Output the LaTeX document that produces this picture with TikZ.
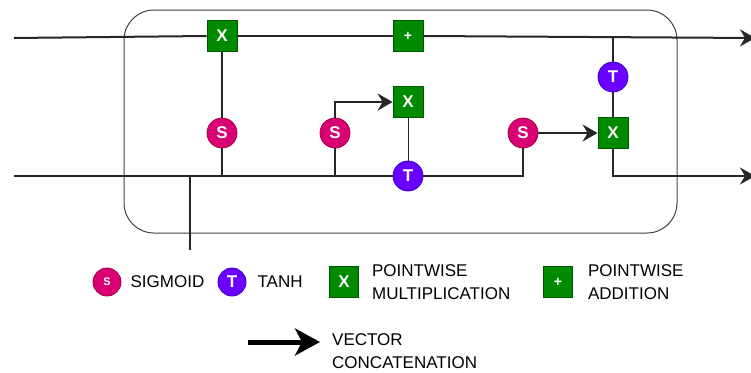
\documentclass[tikz,border=0pt]{standalone}
\usepackage{fontspec}
\setmainfont{Liberation Sans}
\usepackage{tikz}
\usetikzlibrary{arrows.meta,positioning,calc}
\definecolor{sigfill}{HTML}{D80073}
\definecolor{sigline}{HTML}{A50040}
\definecolor{tanfill}{HTML}{6A00FF}
\definecolor{tanline}{HTML}{3700CC}
\definecolor{opfill}{HTML}{008A00}
\definecolor{opline}{HTML}{005700}
\tikzset{
  wire/.style={line width=2pt,black!85},
  thinwire/.style={line width=1pt,black!85},
  flow/.style={wire,-{Stealth[length=15pt,width=17pt,inset=5pt]}},
  gate/.style={circle,minimum size=30pt,inner sep=0pt,text=white,
    line width=0.8pt,font=\fontsize{17}{17}\selectfont\bfseries},
  sigm/.style={gate,fill=sigfill,draw=sigline},
  tanhc/.style={gate,fill=tanfill,draw=tanline},
  opbox/.style={rectangle,minimum width=30pt,minimum height=31pt,inner sep=0pt,
    fill=opfill,draw=opline,text=white,line width=0.8pt,
    font=\fontsize{17}{17}\selectfont\bfseries},
  keytext/.style={inner sep=0pt,align=left,font=\fontsize{17}{23}\selectfont}
}
\begin{document}
\begin{tikzpicture}[x=1pt,y=-1pt]
  \useasboundingbox (0,0) rectangle (751,372);
  % cell frame
  \draw[black!75,line width=1pt,rounded corners=30pt] (124,10) rectangle (677,233);
  % gates
  \node[opbox] (mulA) at (222,36) {X};
  \node[opbox,font=\fontsize{14}{14}\selectfont\bfseries] (addA) at (408,36) {+};
  \node[opbox] (mulB) at (408,102) {X};
  \node[opbox] (mulC) at (613,133) {X};
  \node[sigm] (sigA) at (222,133) {S};
  \node[sigm] (sigB) at (335,133) {S};
  \node[sigm] (sigC) at (523,133) {S};
  \node[tanhc] (tanhA) at (408,176) {T};
  \node[tanhc] (tanhB) at (613,77) {T};
  % ends and taps
  \coordinate (cin) at (14,38);
  \coordinate (cout) at (755,38);
  \coordinate (hin) at (14,176);
  \coordinate (hout) at (755,176);
  \coordinate (split) at (190,176);
  \coordinate (xin) at (190,250);
  \coordinate (tapB) at (tanhB |- cin);
  % cell state
  \draw[wire] (cin) -- (mulA.west);
  \draw[wire] (mulA.east) -- (addA.west);
  \draw[flow] (addA.east) -- (cout);
  % hidden state
  \draw[wire] (hin) -- (tanhA.west);
  \draw[wire] (tanhA.east) -| (sigC.south);
  \draw[wire] (split) -- (xin);
  \draw[wire] (sigA.south) -- (sigA |- hin);
  \draw[wire] (sigA.north) -- (mulA.south);
  \draw[wire] (sigB.south) -- (sigB |- hin);
  \draw[flow] (sigB.north) |- (mulB.west);
  \draw[thinwire] (mulB.south) -- (tanhA.north);
  \draw[flow] (sigC.east) -- (mulC.west);
  \draw[wire] (tapB) -- (tanhB.north);
  \draw[wire] (tanhB.south) -- (mulC.north);
  \draw[flow] (mulC.south) |- (hout);
  % legend
  \node[sigm,minimum size=28pt,font=\fontsize{11}{11}\selectfont\bfseries] (keyS) at (107,282) {S};
  \node[keytext,right=9pt of keyS] (keySlbl) {SIGMOID};
  \node[tanhc,minimum size=28pt] (keyT) at (232,282) {T};
  \node[keytext,right=11pt of keyT] (keyTlbl) {TANH};
  \node[opbox,minimum width=29pt] (keyX) at (344,282) {X};
  \node[keytext,right=13pt of keyX] (keyXlbl) {POINTWISE\\MULTIPLICATION};
  \node[opbox,minimum width=29pt,font=\fontsize{14}{14}\selectfont\bfseries] (keyP) at (558,282) {+};
  \node[keytext,right=15pt of keyP] (keyPlbl) {POINTWISE\\ADDITION};
  \coordinate (vecA) at (248,342);
  \coordinate (vecB) at (320,342);
  \draw[line width=5pt,black,-{Stealth[length=25pt,width=27pt,inset=7pt]}] (vecA) -- (vecB);
  \node[keytext,anchor=west] (vecLbl) at (332,351) {VECTOR\\CONCATENATION};
\end{tikzpicture}
\end{document}
